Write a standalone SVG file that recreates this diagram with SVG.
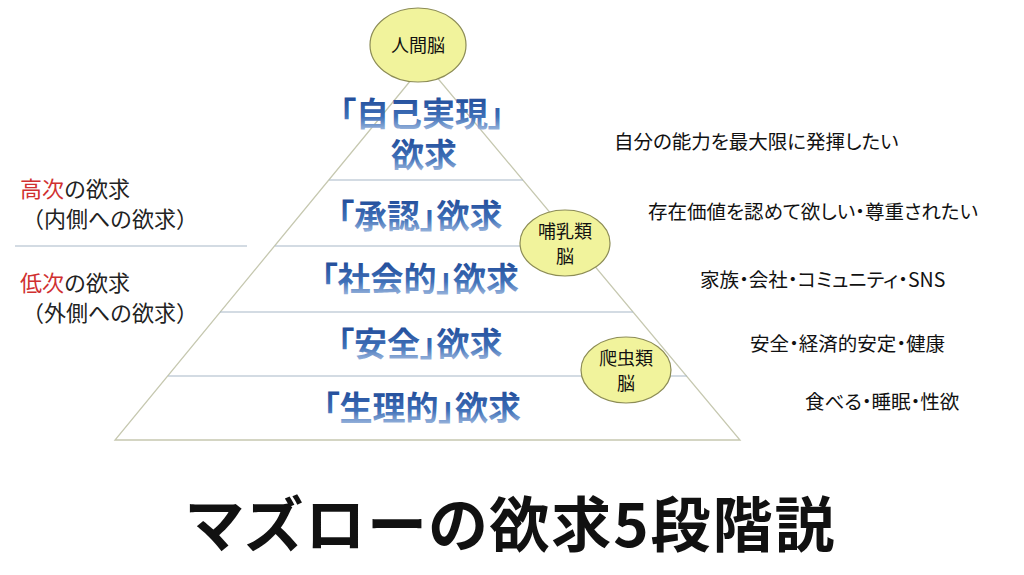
<svg xmlns="http://www.w3.org/2000/svg" width="1024" height="575" viewBox="0 0 1024 575">
<defs>
<linearGradient id="bg" x1="0" y1="0" x2="0" y2="1">
<stop offset="0" stop-color="#163d8c"/><stop offset="0.6" stop-color="#3f70b8"/><stop offset="1" stop-color="#c2d3ec"/>
</linearGradient>
<style>
.jp{font-family:"Noto Sans CJK JP","Noto Sans",sans-serif;font-feature-settings:"palt"}
.lvl{font-weight:bold;font-size:33px;fill:url(#bg);text-anchor:middle}
.r{font-size:19.5px;fill:#111}
.l{font-size:22px;fill:#222;font-feature-settings:normal}
.red{fill:#d03030}
.brain{fill:#f1f39c;stroke:#8c8c55;stroke-width:1.2}
.bt{font-size:18px;fill:#111;text-anchor:middle}
.ln{stroke:#c6c8b0;stroke-width:1.3;fill:none}
.div{stroke:#a8b8c8;stroke-width:1.2}
</style>
</defs>
<rect width="1024" height="575" fill="#fff"/>
<g id="connectors">
<polygon class="ln" points="425,63 115,440 740,440"/>
<line class="div" x1="329" y1="180" x2="523" y2="180"/>
<line class="div" x1="275" y1="246" x2="578" y2="246"/>
<line class="div" x1="220" y1="312" x2="633" y2="312"/>
<line class="div" x1="168" y1="376" x2="687" y2="376"/>
<line class="div" x1="15" y1="246" x2="247" y2="246"/>
</g>
<g id="levels" class="jp">
<text class="lvl" x="422" y="126">「自己実現」</text>
<text class="lvl" x="424" y="167">欲求</text>
<text class="lvl" x="420" y="228">「承認」欲求</text>
<text class="lvl" x="420" y="291">「社会的」欲求</text>
<text class="lvl" x="420" y="356">「安全」欲求</text>
<text class="lvl" x="422" y="420">「生理的」欲求</text>
</g>
<g id="brain-human"><ellipse class="brain" cx="418" cy="45" rx="48" ry="37"/><text class="jp bt" x="418" y="52">人間脳</text></g>
<g id="brain-mammal"><ellipse class="brain" cx="565" cy="243" rx="45" ry="33"/><text class="jp bt" x="565" y="238">哺乳類</text><text class="jp bt" x="565" y="263">脳</text></g>
<g id="brain-reptile"><ellipse class="brain" cx="626" cy="370" rx="45" ry="33"/><text class="jp bt" x="626" y="365">爬虫類</text><text class="jp bt" x="626" y="390">脳</text></g>
<g id="right-labels" class="jp">
<text class="r" x="614" y="149">自分の能力を最大限に発揮したい</text>
<text class="r" x="648" y="219">存在価値を認めて欲しい・尊重されたい</text>
<text class="r" x="700" y="287">家族・会社・コミュニティ・SNS</text>
<text class="r" x="750" y="351">安全・経済的安定・健康</text>
<text class="r" x="805" y="409">食べる・睡眠・性欲</text>
</g>
<g id="left-labels" class="jp">
<text class="l" x="20" y="197"><tspan class="red">高次</tspan>の欲求</text>
<text class="l" x="22" y="227">（内側への欲求）</text>
<text class="l" x="20" y="291"><tspan class="red">低次</tspan>の欲求</text>
<text class="l" x="22" y="321">（外側への欲求）</text>
</g>
<text class="jp" x="512" y="547" font-size="60" font-weight="bold" text-anchor="middle" fill="#111" letter-spacing="2">マズローの欲求5段階説</text>
</svg>
